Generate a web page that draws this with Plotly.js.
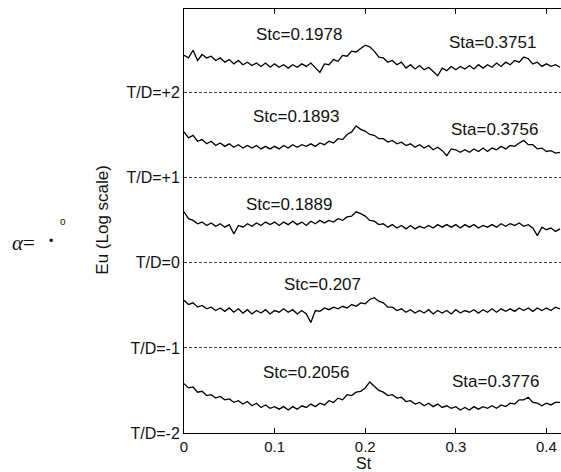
<!DOCTYPE html>
<html>
<head>
<meta charset="utf-8">
<script src="https://cdn.plot.ly/plotly-3.0.1.min.js"></script>
<style>html,body{margin:0;padding:0;background:#fff;}#chart{width:561px;height:472px;}</style>
</head>
<body>
<div id="chart"></div>
<script>
// Strouhal number grid (x)
const st = [0,0.005,0.01,0.015,0.02,0.025,0.03,0.035,0.04,0.045,0.05,0.055,0.06,0.065,0.07,0.075,0.08,0.085,0.09,0.095,0.1,0.105,0.11,0.115,0.12,0.125,0.13,0.135,0.14,0.145,0.15,0.155,0.16,0.165,0.17,0.175,0.18,0.185,0.19,0.195,0.2,0.205,0.21,0.215,0.22,0.225,0.23,0.235,0.24,0.245,0.25,0.255,0.26,0.265,0.27,0.275,0.28,0.285,0.29,0.295,0.3,0.305,0.31,0.315,0.32,0.325,0.33,0.335,0.34,0.345,0.35,0.355,0.36,0.365,0.37,0.375,0.38,0.385,0.39,0.395,0.4,0.405,0.41,0.415];

// T/D offsets of each spectrum
const tdValues = [2, 1, 0, -1, -2];
const tdLabels = ['T/D=+2', 'T/D=+1', 'T/D=0', 'T/D=-1', 'T/D=-2'];

// Eu spectra (log level above each T/D baseline)
const euTDp2 = [0.44,0.41,0.50,0.38,0.45,0.41,0.43,0.38,0.41,0.36, 0.39,0.34,0.38,0.33,0.36,0.32,0.35,0.31,0.35,0.30, 0.34,0.30,0.33,0.29,0.33,0.30,0.34,0.31,0.35,0.29, 0.24,0.34,0.33,0.39,0.37,0.44,0.43,0.49,0.48,0.52, 0.56,0.54,0.49,0.42,0.41,0.36,0.38,0.33,0.36,0.29, 0.33,0.28,0.32,0.27,0.30,0.25,0.20,0.29,0.26,0.31, 0.27,0.31,0.28,0.32,0.28,0.33,0.29,0.33,0.30,0.35, 0.31,0.36,0.33,0.38,0.36,0.42,0.40,0.34,0.36,0.31, 0.34,0.31,0.33,0.30];
const euTDp1 = [0.54,0.47,0.50,0.43,0.45,0.40,0.43,0.38,0.41,0.37, 0.40,0.36,0.39,0.35,0.38,0.35,0.38,0.34,0.37,0.34, 0.37,0.34,0.38,0.35,0.39,0.36,0.39,0.37,0.40,0.37, 0.41,0.39,0.43,0.41,0.46,0.45,0.51,0.54,0.61,0.57, 0.55,0.51,0.50,0.46,0.46,0.42,0.44,0.40,0.42,0.38, 0.40,0.36,0.39,0.35,0.38,0.33,0.36,0.32,0.26,0.34, 0.33,0.30,0.33,0.30,0.34,0.31,0.35,0.31,0.35,0.33, 0.37,0.34,0.38,0.37,0.41,0.44,0.39,0.39,0.34,0.35, 0.31,0.32,0.29,0.30];
const euTD0 = [0.60,0.52,0.50,0.46,0.48,0.44,0.47,0.43,0.46,0.42, 0.45,0.34,0.44,0.42,0.46,0.43,0.47,0.44,0.48,0.45, 0.48,0.44,0.48,0.45,0.49,0.45,0.48,0.44,0.49,0.46, 0.50,0.47,0.50,0.48,0.52,0.50,0.54,0.55,0.60,0.58, 0.55,0.50,0.49,0.45,0.46,0.42,0.45,0.41,0.44,0.40, 0.44,0.40,0.43,0.41,0.44,0.41,0.45,0.42,0.45,0.42, 0.45,0.41,0.45,0.42,0.45,0.41,0.44,0.42,0.45,0.42, 0.46,0.43,0.46,0.44,0.47,0.43,0.45,0.41,0.32,0.42, 0.39,0.41,0.37,0.40];
const euTDm1 = [0.56,0.51,0.53,0.48,0.50,0.46,0.48,0.44,0.47,0.43, 0.47,0.42,0.46,0.41,0.45,0.40,0.44,0.41,0.45,0.40, 0.44,0.42,0.46,0.42,0.45,0.40,0.44,0.40,0.30,0.44, 0.43,0.47,0.45,0.48,0.46,0.49,0.47,0.51,0.49,0.53, 0.52,0.57,0.59,0.55,0.53,0.48,0.48,0.44,0.46,0.42, 0.45,0.41,0.44,0.41,0.45,0.40,0.44,0.41,0.44,0.40, 0.45,0.41,0.44,0.42,0.45,0.41,0.45,0.42,0.46,0.42, 0.46,0.43,0.46,0.43,0.47,0.44,0.47,0.43,0.47,0.44, 0.47,0.44,0.48,0.46];
const euTDm2 = [0.58,0.53,0.54,0.48,0.49,0.44,0.45,0.41,0.43,0.39, 0.40,0.36,0.38,0.34,0.37,0.32,0.35,0.30,0.33,0.29, 0.31,0.28,0.31,0.27,0.31,0.28,0.32,0.30,0.34,0.31, 0.35,0.33,0.38,0.36,0.41,0.39,0.45,0.44,0.48,0.49, 0.53,0.60,0.55,0.50,0.48,0.44,0.45,0.41,0.42,0.37, 0.38,0.34,0.36,0.32,0.35,0.31,0.34,0.30,0.32,0.29, 0.31,0.27,0.30,0.27,0.31,0.28,0.31,0.29,0.32,0.29, 0.33,0.31,0.35,0.34,0.39,0.39,0.42,0.36,0.35,0.32, 0.35,0.33,0.36,0.36];

const spectra = [euTDp2, euTDp1, euTD0, euTDm1, euTDm2];

// Peak labels
const peakLabels = ['Stc=0.1978', 'Sta=0.3751', 'Stc=0.1893', 'Sta=0.3756', 'Stc=0.1889', 'Stc=0.207', 'Stc=0.2056', 'Sta=0.3776'];

const FONT = 'Liberation Sans, Arial, Helvetica, sans-serif';

const traces = spectra.map((vals, k) => ({
  type: 'scatter',
  mode: 'lines',
  x: st,
  y: vals.map(v => v + tdValues[k]),
  line: {color: '#000', width: 1.3},
  hoverinfo: 'skip'
}));

const labelPos = [
  {x: 0.128, y: 2.682}, {x: 0.340, y: 2.588},
  {x: 0.1247, y: 1.718}, {x: 0.343, y: 1.565},
  {x: 0.116, y: 0.682},
  {x: 0.153, y: -0.259},
  {x: 0.135, y: -1.294}, {x: 0.344, y: -1.40}
];

const annotations = peakLabels.map((t, i) => ({
  text: t, xref: 'x', yref: 'y', x: labelPos[i].x, y: labelPos[i].y,
  showarrow: false, xanchor: 'center', yanchor: 'middle',
  font: {family: FONT, size: 17, color: '#111'}
}));

annotations.push({
  text: 'St', xref: 'paper', yref: 'paper', x: 0.478, y: -0.073,
  xanchor: 'center', yanchor: 'middle', showarrow: false, borderpad: 0,
  font: {family: FONT, size: 16, color: '#111'}
});
annotations.push({
  text: 'Eu (Log scale)', xref: 'paper', yref: 'paper', x: -0.215, y: 0.503,
  xanchor: 'center', yanchor: 'middle', showarrow: false, textangle: -90,
  font: {family: FONT, size: 17, color: '#111'}
});
annotations.push({
  text: '<i>α</i>=', xref: 'paper', yref: 'paper', x: -0.462, y: 0.447,
  xanchor: 'left', yanchor: 'middle', showarrow: false,
  font: {family: 'Liberation Serif, Times New Roman, serif', size: 21, color: '#111'}
});
annotations.push({
  text: '•', xref: 'paper', yref: 'paper', x: -0.352, y: 0.452,
  xanchor: 'center', yanchor: 'middle', showarrow: false,
  font: {family: FONT, size: 12, color: '#111'}
});
annotations.push({
  text: 'o', xref: 'paper', yref: 'paper', x: -0.321, y: 0.498,
  xanchor: 'center', yanchor: 'middle', showarrow: false,
  font: {family: FONT, size: 10, color: '#111'}
});

const layout = {
  width: 561, height: 472,
  margin: {l: 184, r: 0, t: 9, b: 39},
  paper_bgcolor: '#fff', plot_bgcolor: '#fff',
  showlegend: false,
  font: {family: FONT, color: '#111'},
  xaxis: {
    range: [0, 0.4161],
    tickvals: [0, 0.1, 0.2, 0.3, 0.4],
    ticktext: ['0', '0.1', '0.2', '0.3', '0.4'],
    ticks: 'inside', ticklen: 5, tickcolor: '#000', tickwidth: 1,
    showline: true, linecolor: '#000', linewidth: 1, mirror: 'ticks',
    showgrid: false, zeroline: false,
    tickfont: {family: FONT, size: 15, color: '#111'}
  },
  yaxis: {
    range: [-2, 2.985],
    tickvals: tdValues,
    ticktext: tdLabels,
    ticks: '',
    showline: true, linecolor: '#000', linewidth: 1,
    showgrid: true, gridcolor: '#444', gridwidth: 1, griddash: '3px,2px',
    zeroline: false,
    tickfont: {family: FONT, size: 16, color: '#111'}
  },
  annotations: annotations
};

Plotly.newPlot('chart', traces, layout, {displayModeBar: false, staticPlot: true});
</script>
</body>
</html>
